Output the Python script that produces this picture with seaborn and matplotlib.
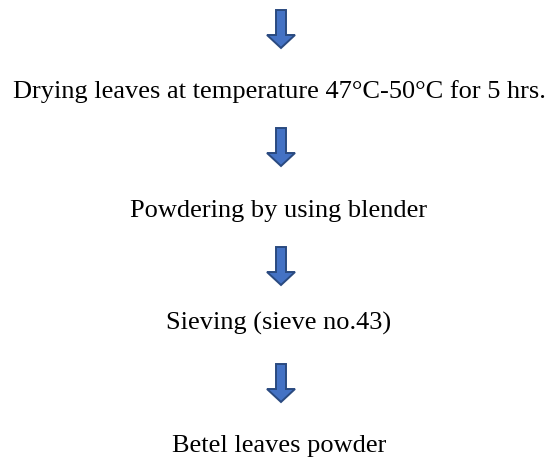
import matplotlib
matplotlib.use("Agg")
import matplotlib.pyplot as plt
from matplotlib.patches import Polygon
import seaborn as sns

# flowchart content
steps = ["Drying leaves at temperature 47\u00b0C-50\u00b0C for 5 hrs.",
         "Powdering by using blender",
         "Sieving (sieve no.43)",
         "Betel leaves powder"]

# layout (pixels, y measured from top)
text_baselines = [98, 217, 330, 452]
arrow_tops = [10, 128, 247, 364]
arrow_len = 38
arrow_x = 281
shaft_w = 10
head_w = 28
head_len = 13


def down_arrow(ax, x, top):
    """Block arrow pointing down"""
    tip = top + arrow_len
    hs = tip - head_len
    pts = [(x - shaft_w / 2, top), (x + shaft_w / 2, top), (x + shaft_w / 2, hs),
           (x + head_w / 2, hs), (x, tip), (x - head_w / 2, hs), (x - shaft_w / 2, hs)]
    ax.add_patch(Polygon(pts, closed=True, facecolor='#4472C4',
                         edgecolor='#2A4A80', linewidth=1.4, joinstyle='miter'))


sns.set_style("white")
plt.rcParams['font.family'] = ['Liberation Serif', 'DejaVu Serif']

fig = plt.figure(figsize=(5.52, 4.57), dpi=100)
ax = fig.add_axes([0, 0, 1, 1])
ax.set_xlim(0, 552)
ax.set_ylim(457, 0)
ax.axis('off')

for top in arrow_tops:
    down_arrow(ax, arrow_x, top)

for label, yb in zip(steps, text_baselines):
    ax.text(279, yb, label, ha='center', va='baseline', fontsize=19, color='black')

fig.savefig('out.png', dpi=100, facecolor='white')
